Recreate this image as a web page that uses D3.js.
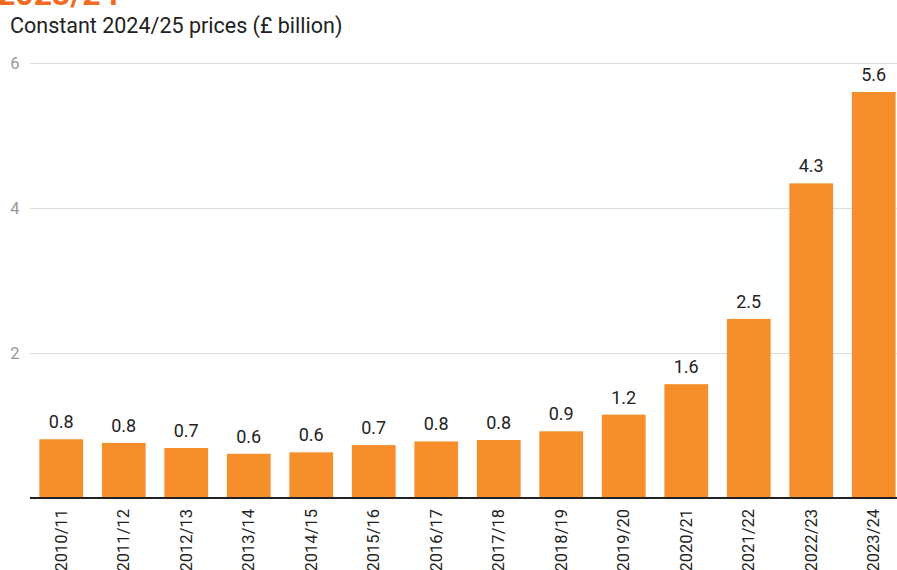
<!DOCTYPE html>
<meta charset="utf-8">
<style>
body {
  margin: 0;
  background: #fff;
  overflow: hidden;
}
text {
  font-family: Roboto, "Noto Sans", sans-serif;
}
.grid line {
  stroke: #dcdcdc;
  stroke-width: 1px;
}
.bar {
  fill: #f68f2b;
}
</style>
<body>
<script src="https://cdnjs.cloudflare.com/ajax/libs/d3/7.8.5/d3.min.js"></script>
<script>
var years = ["2010/11", "2011/12", "2012/13", "2013/14", "2014/15", "2015/16", "2016/17",
             "2017/18", "2018/19", "2019/20", "2020/21", "2021/22", "2022/23", "2023/24"];
var spend = [0.81, 0.76, 0.69, 0.61, 0.63, 0.73, 0.78, 0.80, 0.92, 1.15, 1.57, 2.47, 4.34, 5.60];
var valueLabels = ["0.8", "0.8", "0.7", "0.6", "0.6", "0.7", "0.8", "0.8", "0.9", "1.2", "1.6", "2.5", "4.3", "5.6"];
var yTicks = [2, 4, 6];

var width = 897,
    height = 570;

var margin = {left: 30, bottom: 498, top: 63};

var svg = d3.select("body").append("svg")
    .attr("width", width)
    .attr("height", height);

var x = d3.scaleBand()
    .domain(years)
    .range([margin.left, margin.left + 62.5 * years.length])
    .paddingInner(0.3)
    .paddingOuter(0.15);

var y = d3.scaleLinear()
    .domain([0, 6])
    .range([margin.bottom, margin.top]);

// headline scrolled off the top, only its lower edge shows
svg.append("text")
    .attr("x", -3)
    .attr("y", 5)
    .attr("fill", "#f26b21")
    .attr("font-size", "32px")
    .attr("font-weight", "bold")
    .text("2023/24");

svg.append("text")
    .attr("x", 10)
    .attr("y", 33)
    .attr("fill", "#222")
    .attr("font-size", "21.5px")
    .text("Constant 2024/25 prices (\u00a3 billion)");

var grid = svg.append("g").attr("class", "grid");

grid.selectAll("line")
    .data(yTicks)
  .enter().append("line")
    .attr("x1", margin.left)
    .attr("x2", width)
    .attr("y1", function(d) { return Math.round(y(d)) + 0.5; })
    .attr("y2", function(d) { return Math.round(y(d)) + 0.5; });

grid.selectAll("text")
    .data(yTicks)
  .enter().append("text")
    .attr("x", 15)
    .attr("y", function(d) { return y(d) + 6; })
    .attr("text-anchor", "middle")
    .attr("fill", "#999")
    .attr("font-size", "16.5px")
    .text(function(d) { return d; });

svg.selectAll(".bar")
    .data(spend)
  .enter().append("rect")
    .attr("class", "bar")
    .attr("x", function(d, i) { return x(years[i]); })
    .attr("width", x.bandwidth())
    .attr("y", function(d) { return y(d); })
    .attr("height", function(d) { return y(0) - y(d); });

svg.selectAll(".val")
    .data(spend)
  .enter().append("text")
    .attr("class", "val")
    .attr("x", function(d, i) { return x(years[i]) + x.bandwidth() / 2; })
    .attr("y", function(d) { return y(d) - 11; })
    .attr("text-anchor", "middle")
    .attr("fill", "#222")
    .attr("font-size", "18px")
    .text(function(d, i) { return valueLabels[i]; });

svg.append("line")
    .attr("x1", margin.left)
    .attr("x2", width)
    .attr("y1", y(0))
    .attr("y2", y(0))
    .attr("stroke", "#222")
    .attr("stroke-width", 2);

svg.selectAll(".xl")
    .data(years)
  .enter().append("text")
    .attr("class", "xl")
    .attr("transform", function(d) {
      return "translate(" + (x(d) + x.bandwidth() / 2 + 5.5) + ",509)rotate(-90)";
    })
    .attr("text-anchor", "end")
    .attr("fill", "#222")
    .attr("font-size", "16.5px")
    .text(function(d) { return d; });
</script>
